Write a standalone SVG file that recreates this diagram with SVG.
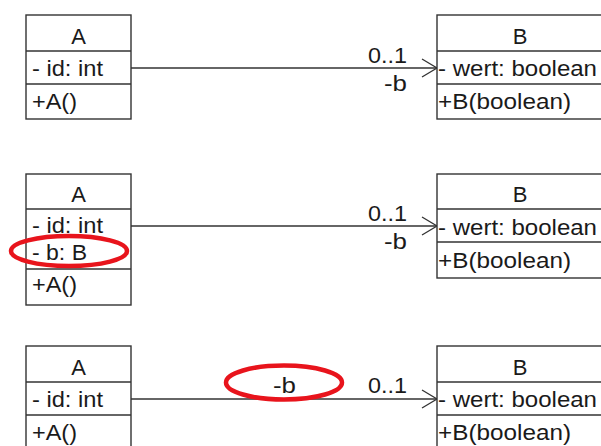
<svg xmlns="http://www.w3.org/2000/svg" width="601" height="446" viewBox="0 0 601 446">
<style>
.box{fill:#fff;stroke:#333;stroke-width:1.4}
.sep{stroke:#333;stroke-width:1.4}
.t{font-family:"Liberation Sans",Arial,sans-serif;font-size:22px;fill:#1a1a1a}
.c{text-anchor:middle}
.conn{stroke:#333;stroke-width:1.3;fill:none}
.mark{fill:none;stroke:#e8141c;stroke-width:4.5}
</style>
<defs>
<marker id="open" markerWidth="18" markerHeight="20" refX="16" refY="10" orient="auto" markerUnits="userSpaceOnUse">
<path d="M1,1 L16,10 L1,19" fill="none" stroke="#333" stroke-width="1.3"/>
</marker>
</defs>
<g id="connectors">
<line class="conn" x1="131" y1="68" x2="437" y2="68" marker-end="url(#open)"/>
<text class="t" x="368" y="63" textLength="39" lengthAdjust="spacingAndGlyphs">0..1</text>
<text class="t" x="384" y="91" textLength="23" lengthAdjust="spacingAndGlyphs">-b</text>
<line class="conn" x1="131" y1="226" x2="437" y2="226" marker-end="url(#open)"/>
<text class="t" x="368" y="221" textLength="39" lengthAdjust="spacingAndGlyphs">0..1</text>
<text class="t" x="384" y="249" textLength="23" lengthAdjust="spacingAndGlyphs">-b</text>
<line class="conn" x1="131" y1="399" x2="437" y2="399" marker-end="url(#open)"/>
<text class="t" x="368" y="393" textLength="39" lengthAdjust="spacingAndGlyphs">0..1</text>
<text class="t" x="273" y="393" textLength="23" lengthAdjust="spacingAndGlyphs">-b</text>
</g>
<g id="A1">
<rect class="box" x="26" y="15" width="105" height="104"/>
<line class="sep" x1="26" y1="51" x2="131" y2="51"/>
<line class="sep" x1="26" y1="84" x2="131" y2="84"/>
<text class="t c" x="78.5" y="44">A</text>
<text class="t" x="32" y="76" textLength="71" lengthAdjust="spacingAndGlyphs">- id: int</text>
<text class="t" x="32" y="109" textLength="45" lengthAdjust="spacingAndGlyphs">+A()</text>
</g>
<g id="B1">
<rect class="box" x="437" y="15" width="180" height="104"/>
<line class="sep" x1="437" y1="51" x2="617" y2="51"/>
<line class="sep" x1="437" y1="84" x2="617" y2="84"/>
<text class="t c" x="520" y="44">B</text>
<text class="t" x="438" y="76" textLength="159" lengthAdjust="spacingAndGlyphs">- wert: boolean</text>
<text class="t" x="438" y="109" textLength="133" lengthAdjust="spacingAndGlyphs">+B(boolean)</text>
</g>
<g id="A2">
<rect class="box" x="26" y="174" width="105" height="131"/>
<line class="sep" x1="26" y1="209" x2="131" y2="209"/>
<line class="sep" x1="26" y1="269" x2="131" y2="269"/>
<text class="t c" x="78.5" y="202">A</text>
<text class="t" x="32" y="233" textLength="71" lengthAdjust="spacingAndGlyphs">- id: int</text>
<text class="t" x="32" y="260" textLength="55" lengthAdjust="spacingAndGlyphs">- b: B</text>
<text class="t" x="32" y="292" textLength="45" lengthAdjust="spacingAndGlyphs">+A()</text>
</g>
<g id="B2">
<rect class="box" x="437" y="174" width="180" height="104"/>
<line class="sep" x1="437" y1="209" x2="617" y2="209"/>
<line class="sep" x1="437" y1="242" x2="617" y2="242"/>
<text class="t c" x="520" y="202">B</text>
<text class="t" x="438" y="235" textLength="159" lengthAdjust="spacingAndGlyphs">- wert: boolean</text>
<text class="t" x="438" y="268" textLength="133" lengthAdjust="spacingAndGlyphs">+B(boolean)</text>
</g>
<g id="A3">
<rect class="box" x="26" y="346" width="105" height="110"/>
<line class="sep" x1="26" y1="382" x2="131" y2="382"/>
<line class="sep" x1="26" y1="415" x2="131" y2="415"/>
<text class="t c" x="78.5" y="375">A</text>
<text class="t" x="32" y="407" textLength="71" lengthAdjust="spacingAndGlyphs">- id: int</text>
<text class="t" x="32" y="440" textLength="45" lengthAdjust="spacingAndGlyphs">+A()</text>
</g>
<g id="B3">
<rect class="box" x="437" y="346" width="180" height="110"/>
<line class="sep" x1="437" y1="382" x2="617" y2="382"/>
<line class="sep" x1="437" y1="415" x2="617" y2="415"/>
<text class="t c" x="520" y="375">B</text>
<text class="t" x="438" y="407" textLength="159" lengthAdjust="spacingAndGlyphs">- wert: boolean</text>
<text class="t" x="438" y="440" textLength="133" lengthAdjust="spacingAndGlyphs">+B(boolean)</text>
</g>
<g id="highlights">
<ellipse class="mark" cx="69" cy="251" rx="58" ry="15"/>
<ellipse class="mark" cx="284" cy="382.5" rx="58" ry="17"/>
</g>
</svg>
